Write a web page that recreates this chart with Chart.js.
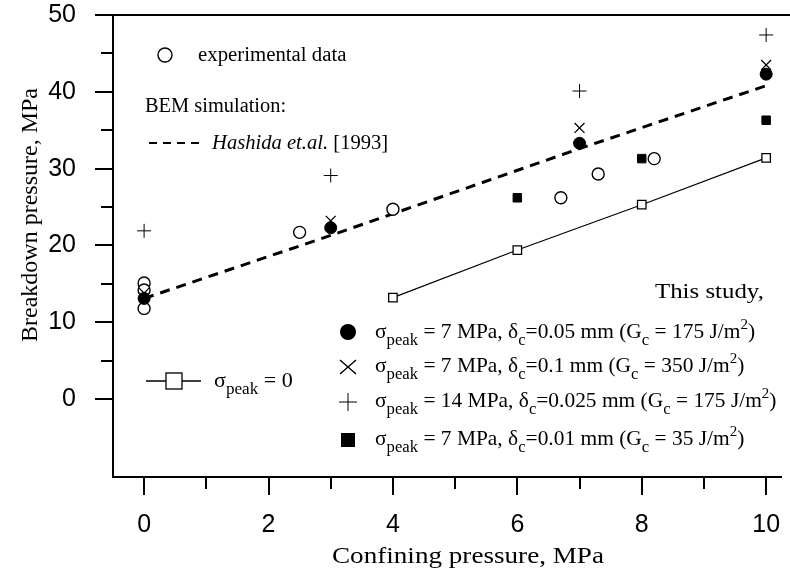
<!DOCTYPE html>
<html>
<head>
<meta charset="utf-8">
<script src="https://cdn.jsdelivr.net/npm/chart.js@4.4.0/dist/chart.umd.min.js"></script>
<style>
  html, body { margin: 0; padding: 0; background: #fff; }
  #wrap { width: 790px; height: 574px; }
</style>
</head>
<body>
<div id="wrap"><canvas id="chart" width="790" height="574"></canvas></div>
<script>
// axis ranges and labelled ticks
const xMin = -0.5, xMax = 10.25;
const yMin = -10.15, yMax = 50;
const xLabels = [0, 2, 4, 6, 8, 10];
const yLabels = [0, 10, 20, 30, 40, 50];

// experimental data (open circles)
const expX = [0, 0, 0, 2.5, 4, 6.7, 7.3, 8.2];
const expY = [15.1, 14.2, 11.8, 21.7, 24.7, 26.2, 29.3, 31.3];

// Hashida et al. [1993] BEM simulation (dashed)
const hashidaX = [0, 3, 7, 10];
const hashidaY = [13.1, 21.3, 32.6, 40.8];

// this study, sigma_peak = 0 (open squares, solid line)
const zeroX = [4, 6, 8, 10];
const zeroY = [13.2, 19.4, 25.3, 31.4];

// this study, cohesive parameters
const simX = [0, 3, 7, 10];
const dc005Y = [13.1, 22.3, 33.3, 42.3];   // filled circle
const dc01Y = [13.8, 23.2, 35.3, 43.5];    // x
const peak14Y = [21.9, 29.1, 40.1, 47.4];  // +
const dc001X = [6, 8, 10];
const dc001Y = [26.2, 31.3, 36.3];         // filled square

const pts = (xs, ys) => xs.map((x, i) => ({ x: x, y: ys[i] }));

const SERIF = '"Liberation Serif", "DejaVu Serif", serif';
const SANS = '"Liberation Sans", Arial, sans-serif';

// text with sub/superscripts, parts = [[text, kind], ...], sx = horizontal stretch
function drawRich(ctx, x, y, parts, size, sx) {
  ctx.save();
  ctx.translate(x, y);
  ctx.scale(sx || 1, 1);
  let cx = 0;
  parts.forEach(([t, kind]) => {
    let s = size, dy = 0, style = "";
    if (kind === "sub") { s = size * 0.78; dy = size * 0.34; }
    if (kind === "sup") { s = size * 0.7; dy = -size * 0.45; }
    if (kind === "i") style = "italic ";
    ctx.font = style + s + "px " + SERIF;
    ctx.fillText(t, cx, dy);
    cx += ctx.measureText(t).width;
  });
  ctx.restore();
}

function line(ctx, x1, y1, x2, y2) {
  ctx.beginPath();
  ctx.moveTo(x1, y1);
  ctx.lineTo(x2, y2);
  ctx.stroke();
}

const decorPlugin = {
  id: "decor",
  afterDraw(chart) {
    const ctx = chart.ctx;
    const a = chart.chartArea;
    const xs = chart.scales.x, ys = chart.scales.y;
    ctx.save();
    ctx.strokeStyle = "#000";
    ctx.fillStyle = "#000";
    ctx.lineWidth = 2;

    // top frame line
    line(ctx, a.left, a.top, 790, a.top);

    // tick marks, long for labelled ones
    ys.ticks.forEach(t => {
      const py = Math.round(ys.getPixelForValue(t.value));
      const len = yLabels.includes(t.value) ? 18 : 12;
      line(ctx, a.left - len, py, a.left, py);
    });
    xs.ticks.forEach(t => {
      const px = Math.round(xs.getPixelForValue(t.value));
      const len = xLabels.includes(t.value) ? 18 : 12;
      line(ctx, px, a.bottom, px, a.bottom + len);
    });

    // axis titles
    ctx.textBaseline = "alphabetic";
    ctx.textAlign = "center";
    ctx.font = "24px " + SERIF;
    ctx.save();
    ctx.translate(468, 563);
    ctx.scale(1.13, 1);
    ctx.fillText("Confining pressure, MPa", 0, 0);
    ctx.restore();
    ctx.save();
    ctx.translate(37, 215);
    ctx.rotate(-Math.PI / 2);
    ctx.fillText("Breakdown pressure, MPa", 0, 0);
    ctx.restore();

    // upper-left legend
    ctx.textAlign = "left";
    ctx.lineWidth = 1.4;
    ctx.beginPath();
    ctx.arc(165, 55, 7, 0, Math.PI * 2);
    ctx.stroke();
    drawRich(ctx, 198, 61, [["experimental data", "n"]], 20, 1.04);
    drawRich(ctx, 145, 112, [["BEM simulation:", "n"]], 20, 1.02);
    ctx.lineWidth = 2;
    ctx.setLineDash([8, 6]);
    line(ctx, 149, 143, 202, 143);
    ctx.setLineDash([]);
    drawRich(ctx, 212, 149, [["Hashida et.al.", "i"], [" [1993]", "n"]], 20, 1.03);

    // sigma_peak = 0 legend
    ctx.lineWidth = 1.3;
    line(ctx, 146, 381, 201, 381);
    ctx.fillStyle = "#fff";
    ctx.fillRect(166, 373, 16, 16);
    ctx.fillStyle = "#000";
    ctx.strokeRect(166, 373, 16, 16);
    drawRich(ctx, 214, 387, [["\u03c3", "n"], ["peak", "sub"], [" = 0", "n"]], 21, 1.05);

    // this study legend
    drawRich(ctx, 655, 298, [["This study,", "n"]], 22, 1.13);
    const rows = [
      { y: 338, txt: [["\u03c3", "n"], ["peak", "sub"], [" = 7 MPa, \u03b4", "n"], ["c", "sub"], ["=0.05 mm (G", "n"], ["c", "sub"], [" = 175 J/m", "n"], ["2", "sup"], [")", "n"]] },
      { y: 372, txt: [["\u03c3", "n"], ["peak", "sub"], [" = 7 MPa, \u03b4", "n"], ["c", "sub"], ["=0.1 mm (G", "n"], ["c", "sub"], [" = 350 J/m", "n"], ["2", "sup"], [")", "n"]] },
      { y: 407, txt: [["\u03c3", "n"], ["peak", "sub"], [" = 14 MPa, \u03b4", "n"], ["c", "sub"], ["=0.025 mm (G", "n"], ["c", "sub"], [" = 175 J/m", "n"], ["2", "sup"], [")", "n"]] },
      { y: 445, txt: [["\u03c3", "n"], ["peak", "sub"], [" = 7 MPa, \u03b4", "n"], ["c", "sub"], ["=0.01 mm (G", "n"], ["c", "sub"], [" = 35 J/m", "n"], ["2", "sup"], [")", "n"]] }
    ];
    rows.forEach(r => drawRich(ctx, 375, r.y, r.txt, 21, 1.02));

    // legend symbols
    ctx.beginPath();
    ctx.arc(348, 332, 8, 0, Math.PI * 2);
    ctx.fill();
    ctx.lineWidth = 1.4;
    line(ctx, 340, 360, 356, 374);
    line(ctx, 356, 360, 340, 374);
    ctx.lineWidth = 1;
    line(ctx, 339, 402, 357, 402);
    line(ctx, 348, 393, 348, 411);
    ctx.fillRect(341, 433, 14, 14);

    ctx.restore();
  }
};

new Chart(document.getElementById("chart"), {
  type: "scatter",
  data: {
    datasets: [
      {
        label: "Hashida et.al. [1993]",
        data: pts(hashidaX, hashidaY),
        showLine: true,
        borderColor: "#000",
        borderWidth: 3,
        borderDash: [10, 7],
        pointRadius: 0,
        order: 6
      },
      {
        label: "sigma_peak = 0",
        data: pts(zeroX, zeroY),
        showLine: true,
        borderColor: "#000",
        borderWidth: 1.2,
        pointStyle: "rect",
        pointRadius: 6,
        pointBackgroundColor: "#fff",
        pointBorderColor: "#000",
        pointBorderWidth: 1.3,
        order: 5
      },
      {
        label: "experimental data",
        data: pts(expX, expY),
        pointStyle: "circle",
        pointRadius: 6,
        pointBackgroundColor: "#fff",
        pointBorderColor: "#000",
        pointBorderWidth: 1.4,
        order: 4
      },
      {
        label: "dc = 0.01 mm",
        data: pts(dc001X, dc001Y),
        pointStyle: "rect",
        pointRadius: 6,
        pointBackgroundColor: "#000",
        pointBorderColor: "#000",
        order: 3
      },
      {
        label: "dc = 0.05 mm",
        data: pts(simX, dc005Y),
        pointStyle: "circle",
        pointRadius: 6,
        pointBackgroundColor: "#000",
        pointBorderColor: "#000",
        order: 2
      },
      {
        label: "dc = 0.1 mm",
        data: pts(simX, dc01Y),
        pointStyle: "crossRot",
        pointRadius: 7,
        pointBorderColor: "#000",
        pointBorderWidth: 1.3,
        order: 1
      },
      {
        label: "peak = 14 MPa",
        data: pts(simX, peak14Y),
        pointStyle: "cross",
        pointRadius: 7,
        pointBorderColor: "#000",
        pointBorderWidth: 1,
        order: 0
      }
    ]
  },
  options: {
    responsive: false,
    animation: false,
    devicePixelRatio: 1,
    layout: { padding: { top: 15, right: 0, left: 0, bottom: 0 } },
    plugins: {
      legend: { display: false },
      tooltip: { enabled: false }
    },
    scales: {
      x: {
        type: "linear",
        min: xMin,
        max: xMax,
        afterFit(scale) {
          scale.height = 97;
          scale.paddingLeft = 0;
          scale.paddingRight = 0;
        },
        grid: { display: false, drawTicks: false },
        border: { display: true, color: "#000", width: 2 },
        ticks: {
          stepSize: 1,
          includeBounds: false,
          autoSkip: false,
          maxRotation: 0,
          padding: 33,
          color: "#000",
          font: { family: SANS, size: 25 },
          callback: v => xLabels.includes(v) ? String(v) : ""
        }
      },
      y: {
        type: "linear",
        min: yMin,
        max: yMax,
        afterFit(scale) {
          scale.width = 113;
          scale.paddingTop = 0;
          scale.paddingBottom = 0;
        },
        afterBuildTicks(scale) { scale.ticks = scale.ticks.filter(t => t.value >= 0); },
        grid: { display: false, drawTicks: false },
        border: { display: true, color: "#000", width: 2 },
        ticks: {
          stepSize: 5,
          includeBounds: false,
          autoSkip: false,
          padding: 37,
          color: "#000",
          font: { family: SANS, size: 25 },
          callback: v => yLabels.includes(v) ? String(v) : ""
        }
      }
    }
  },
  plugins: [decorPlugin]
});
</script>
</body>
</html>
